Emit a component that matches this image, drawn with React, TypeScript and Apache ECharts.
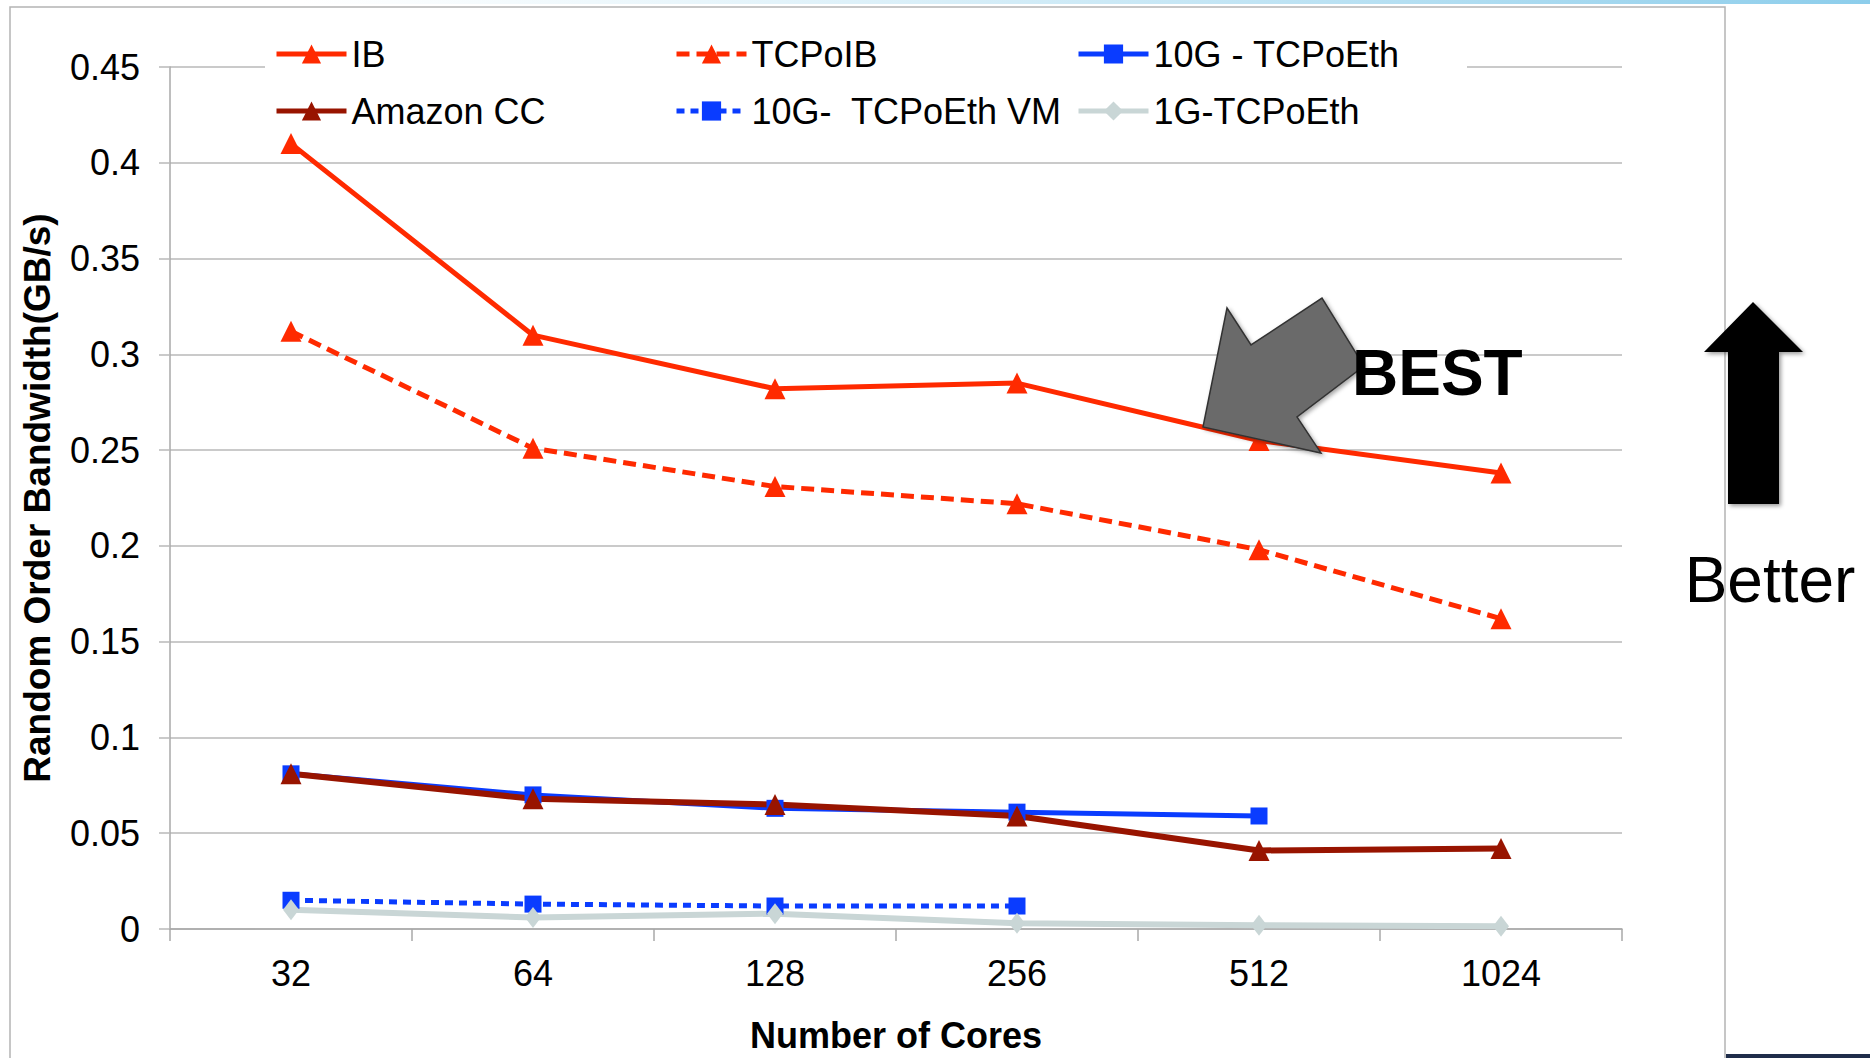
import React, { useEffect, useRef } from "react";
import * as echarts from "echarts";

const categories = ["32", "64", "128", "256", "512", "1024"];
const ibValues = [0.41, 0.31, 0.282, 0.285, 0.255, 0.238];
const tcpoibValues = [0.312, 0.251, 0.231, 0.222, 0.198, 0.162];
const tenGValues = [0.081, 0.070, 0.063, 0.061, 0.059, null];
const amazonValues = [0.081, 0.068, 0.065, 0.059, 0.041, 0.042];
const tenGVMValues = [0.015, 0.013, 0.012, 0.012, null, null];
const oneGValues = [0.010, 0.006, 0.008, 0.003, 0.002, 0.0015];
const yTicks = { min: 0, max: 0.45, interval: 0.05 };

const FONT = "'Liberation Sans', Arial, Helvetica, sans-serif";

export default function App() {
  const ref = useRef<HTMLDivElement>(null);
  useEffect(() => {
    if (!ref.current) return;
    const chart = echarts.init(ref.current, null, { renderer: "svg" });
    const red = "#ff2a00";
    const darkRed = "#981400";
    const blue = "#0a3cff";
    const grey = "#c9d6d6";
    const legendBase = {
      orient: "vertical",
      top: 34,
      padding: 0,
      itemWidth: 70,
      itemHeight: 24,
      itemGap: 17,
      lineStyle: { width: 5 },
      textStyle: { fontSize: 36, color: "#000", fontFamily: FONT, lineHeight: 40 },
    };
    const option: any = {
      animation: false,
      backgroundColor: "#fff",
      textStyle: { fontFamily: FONT },
      grid: { left: 170, top: 67, width: 1452, height: 862 },
      legend: [
        { ...legendBase, left: 274, data: ["IB", "Amazon CC"] },
        { ...legendBase, left: 674, data: ["TCPoIB", "10G-  TCPoEth VM"] },
        { ...legendBase, left: 1076, data: ["10G - TCPoEth", "1G-TCPoEth"] },
      ],
      xAxis: {
        type: "category",
        data: categories,
        boundaryGap: true,
        axisLine: { lineStyle: { color: "#a8a8a8", width: 1.5 } },
        axisTick: { show: true, length: 12, lineStyle: { color: "#a8a8a8", width: 1.5 } },
        axisLabel: { fontSize: 36, color: "#000", margin: 26 },
        name: "Number of Cores",
        nameLocation: "middle",
        nameGap: 88,
        nameTextStyle: { fontSize: 36, fontWeight: "bold", color: "#000" },
      },
      yAxis: {
        type: "value",
        min: yTicks.min,
        max: yTicks.max,
        interval: yTicks.interval,
        axisLine: { show: true, lineStyle: { color: "#a8a8a8", width: 1.5 } },
        axisTick: { show: true, length: 11, lineStyle: { color: "#b8b8b8", width: 1.5 } },
        splitLine: { lineStyle: { color: "#b8b8b8", width: 1.5 } },
        axisLabel: { fontSize: 36, color: "#000", margin: 30 },
        name: "Random Order Bandwidth(GB/s)",
        nameLocation: "middle",
        nameGap: 114,
        nameTextStyle: { fontSize: 37, fontWeight: "bold", color: "#000" },
      },
      series: [
        {
          name: "IB", type: "line", data: ibValues,
          symbol: "triangle", symbolSize: 21,
          lineStyle: { color: red, width: 5 }, itemStyle: { color: red },
        },
        {
          name: "TCPoIB", type: "line", data: tcpoibValues,
          symbol: "triangle", symbolSize: 21,
          lineStyle: { color: red, width: 5, type: [13, 7] }, itemStyle: { color: red },
        },
        {
          name: "10G - TCPoEth", type: "line", data: tenGValues,
          symbol: "rect", symbolSize: 17,
          lineStyle: { color: blue, width: 5 }, itemStyle: { color: blue },
        },
        {
          name: "Amazon CC", type: "line", data: amazonValues,
          symbol: "triangle", symbolSize: 21,
          lineStyle: { color: darkRed, width: 6 }, itemStyle: { color: darkRed },
        },
        {
          name: "10G-  TCPoEth VM", type: "line", data: tenGVMValues,
          symbol: "rect", symbolSize: 17,
          lineStyle: { color: blue, width: 5, type: [8, 6] }, itemStyle: { color: blue },
        },
        {
          name: "1G-TCPoEth", type: "line", data: oneGValues,
          symbol: "diamond", symbolSize: [16, 21],
          lineStyle: { color: grey, width: 6 }, itemStyle: { color: grey },
        },
      ],
      graphic: [
        {
          type: "rect", z: 0,
          shape: { x: 300, y: 0, width: 1570, height: 4 },
          style: {
            fill: new echarts.graphic.LinearGradient(0, 0, 1, 0, [
              { offset: 0, color: "rgba(170,220,240,0)" },
              { offset: 1, color: "rgba(140,205,235,1)" },
            ]),
          },
        },
        {
          type: "rect", z: 0,
          shape: { x: 10, y: 7, width: 1715, height: 1100 },
          style: { fill: "none", stroke: "#b4b4b4", lineWidth: 1.5 },
        },
        {
          type: "rect", z: 0,
          shape: { x: 1726, y: 1054, width: 144, height: 4 },
          style: { fill: "#1f2d4a" },
        },
        {
          type: "rect", z: 1,
          shape: { x: 265, y: 28, width: 1202, height: 104 },
          style: { fill: "#fff" },
        },
        {
          type: "polygon", z: 10,
          shape: {
            points: [[1227, 308], [1251, 345], [1322, 298], [1364, 366], [1297, 417], [1321, 453], [1203, 427]],
          },
          style: {
            fill: "#6b6b6b", stroke: "#333", lineWidth: 1.5,
            shadowBlur: 4, shadowColor: "rgba(0,0,0,0.35)", shadowOffsetX: 2, shadowOffsetY: 2,
          },
        },
        {
          type: "text", z: 11, x: 1352, y: 373,
          style: {
            text: "BEST", fill: "#000", fontSize: 64, fontWeight: "bold", fontFamily: FONT,
            textAlign: "left", textVerticalAlign: "middle",
          },
        },
        {
          type: "polygon", z: 10,
          shape: {
            points: [[1753, 302], [1803, 352], [1779, 352], [1779, 504], [1728, 504], [1728, 352], [1704, 352]],
          },
          style: {
            fill: "#000",
            shadowBlur: 4, shadowColor: "rgba(0,0,0,0.4)", shadowOffsetX: 2, shadowOffsetY: 2,
          },
        },
        {
          type: "text", z: 11, x: 1770, y: 580,
          style: {
            text: "Better", fill: "#000", fontSize: 64, fontFamily: FONT,
            textAlign: "center", textVerticalAlign: "middle",
          },
        },
      ],
    };
    chart.setOption(option);
    return () => chart.dispose();
  }, []);
  return (
    <div
      ref={ref}
      style={{ position: "fixed", left: 0, top: 0, width: 1870, height: 1058 }}
    />
  );
}
